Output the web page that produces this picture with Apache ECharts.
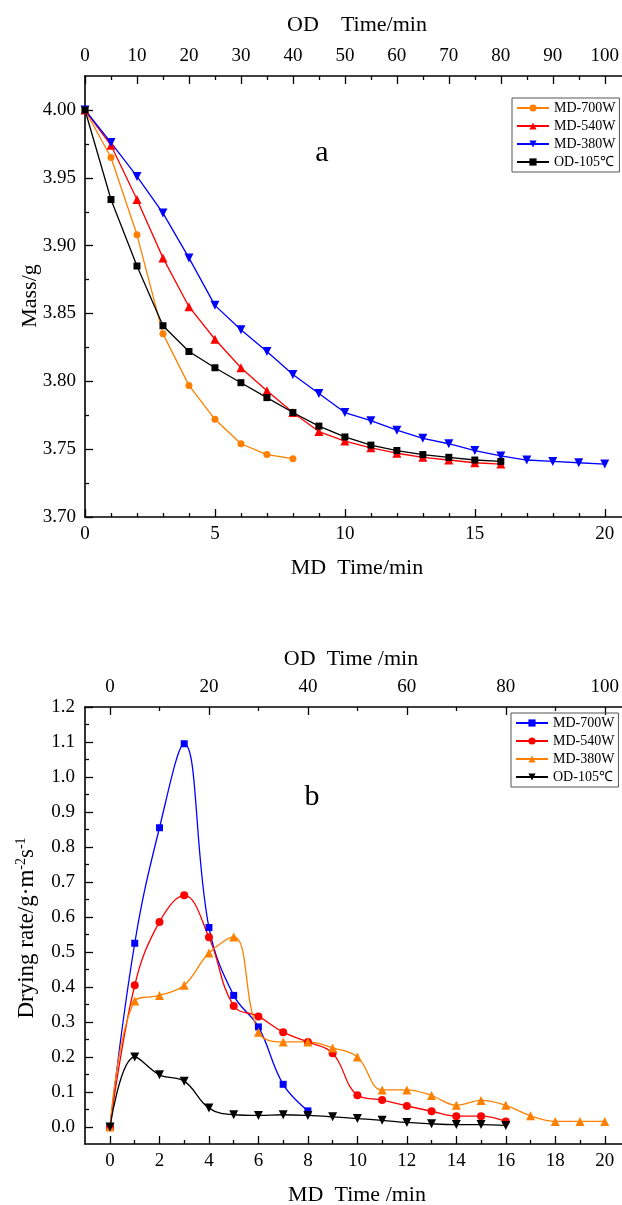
<!DOCTYPE html>
<html><head><meta charset="utf-8">
<script src="https://cdn.jsdelivr.net/npm/echarts@6/dist/echarts.min.js"></script>
<style>html,body{margin:0;padding:0;background:#fff}#c{width:622px;height:1205px}</style>
</head><body><div id="c"></div>
<script>
// ---- Chart a: mass vs time ----
const massMD700 = [4.000,3.965,3.908,3.835,3.797,3.772,3.754,3.746,3.743];
const massMD540 = [4.000,3.974,3.934,3.891,3.855,3.831,3.810,3.793,3.777,3.763,3.756,3.751,3.747,3.744,3.742,3.740,3.739];
const massMD380 = [4.000,3.976,3.951,3.924,3.891,3.856,3.838,3.822,3.805,3.791,3.777,3.771,3.764,3.758,3.754,3.749,3.745,3.742,3.741,3.740,3.739];
const massOD105 = [4.000,3.934,3.885,3.841,3.822,3.810,3.799,3.788,3.777,3.767,3.759,3.753,3.749,3.746,3.744,3.742,3.741];
// ---- Chart b: drying rate vs time ----
const rateMD700 = [0,0.525,0.855,1.095,0.570,0.376,0.286,0.122,0.046];
const rateMD540 = [0,0.405,0.586,0.662,0.542,0.346,0.316,0.271,0.243,0.211,0.091,0.077,0.060,0.045,0.031,0.031,0.016];
const rateMD380 = [0,0.360,0.376,0.405,0.497,0.543,0.271,0.243,0.243,0.226,0.200,0.106,0.106,0.090,0.062,0.076,0.062,0.032,0.016,0.016,0.016];
const rateOD105 = [0,0.200,0.149,0.131,0.054,0.035,0.033,0.035,0.033,0.029,0.024,0.019,0.013,0.009,0.007,0.007,0.004];
// MD time (min) of each point = index; OD time = 5 x MD index
const mdTimes = [0,1,2,3,4,5,6,7,8,9,10,11,12,13,14,15,16,17,18,19,20];

const FONT = 'Liberation Serif';
const pairs = (vals) => vals.map((v, i) => [mdTimes[i], v]);

const lbl = (margin, fmt) => ({show:true, fontFamily:FONT, fontSize:19, color:'#000', margin, formatter:fmt});
const tick = {show:true, inside:true, length:8, lineStyle:{color:'#000', width:1.3}};
const minor = (n) => ({show:true, splitNumber:n, length:4, lineStyle:{color:'#000', width:1.3}});
const noLine = {show:false, onZero:false};
const frameLine = {show:true, onZero:false, lineStyle:{color:'#000', width:1.6}};

function frameAxis(gridIndex, position) {
  return {type:'value', gridIndex, position, min:0, max:1, axisLine:frameLine,
    axisTick:{show:false}, axisLabel:{show:false}, splitLine:{show:false}};
}
function dataAxis(gridIndex, position, min, max, interval, minorN, offset, margin, fmt) {
  return {type:'value', gridIndex, position, min, max, interval, offset,
    axisLine:noLine, axisTick:tick, minorTick:minor(minorN), axisLabel:lbl(margin, fmt),
    splitLine:{show:false}, minorSplitLine:{show:false}};
}

const option = {
  animation:false,
  backgroundColor:'#fff',
  grid:[
    {left:85, right:0, top:76, height:441},            // 0 frame a
    {left:85, right:17, top:110, height:407},          // 1 data a
    {left:85, right:0, top:707, height:437},           // 2 frame b
    {left:110, right:16, top:707, height:420}          // 3 data b
  ],
  xAxis:[
    frameAxis(0,'bottom'), frameAxis(0,'top'),
    dataAxis(1,'bottom',0,20,5,5,0,8, v=>String(v)),
    dataAxis(1,'top',0,100,10,2,34,10, v=>String(v)),
    frameAxis(2,'bottom'), frameAxis(2,'top'),
    dataAxis(3,'bottom',0,20,2,2,17,8, v=>String(v)),
    dataAxis(3,'top',0,100,20,2,0,10, v=>String(v))
  ],
  yAxis:[
    frameAxis(0,'left'),
    dataAxis(1,'left',3.70,4.00,0.05,2,0,9, v=>v.toFixed(2)),
    frameAxis(2,'left'),
    dataAxis(3,'left',0,1.2,0.1,2,25,10, v=>v.toFixed(1))
  ],
  legend:[
    {left:512, top:98, orient:'vertical', itemWidth:32, itemHeight:9, itemGap:4,
     padding:[3,4,3,4], borderColor:'#555', borderWidth:1,
     textStyle:{fontFamily:FONT, fontSize:14, color:'#000', lineHeight:14},
     data:['MD-700W','MD-540W','MD-380W','OD-105℃']},
    {left:511, top:713, orient:'vertical', itemWidth:32, itemHeight:9, itemGap:4,
     padding:[3,4,3,4], borderColor:'#555', borderWidth:1,
     textStyle:{fontFamily:FONT, fontSize:14, color:'#000', lineHeight:14},
     formatter:(n)=>n.trim(),
     data:['MD-700W ','MD-540W ','MD-380W ','OD-105℃ ']}
  ],
  graphic:[
    {type:'text', position:[357,25], style:{text:'OD    Time/min', font:'22px "Liberation Serif"', fill:'#000', textAlign:'center', textVerticalAlign:'middle'}},
    {type:'text', position:[357,568], style:{text:'MD  Time/min', font:'22px "Liberation Serif"', fill:'#000', textAlign:'center', textVerticalAlign:'middle'}},
    {type:'text', position:[30,296], rotation:Math.PI/2, style:{text:'Mass/g', font:'22px "Liberation Serif"', fill:'#000', textAlign:'center', textVerticalAlign:'middle'}},
    {type:'text', position:[322,153], style:{text:'a', font:'30px "Liberation Serif"', fill:'#000', textAlign:'center', textVerticalAlign:'middle'}},
    {type:'text', position:[351,659], style:{text:'OD  Time /min', font:'22px "Liberation Serif"', fill:'#000', textAlign:'center', textVerticalAlign:'middle'}},
    {type:'text', position:[357,1195], style:{text:'MD  Time /min', font:'22px "Liberation Serif"', fill:'#000', textAlign:'center', textVerticalAlign:'middle'}},
    {type:'text', position:[27,928], rotation:Math.PI/2, style:{text:'{a|Drying rate/g·m}{s|-2}{a|s}{s|-1}', textAlign:'center', textVerticalAlign:'middle',
      rich:{a:{fontFamily:FONT, fontSize:23, fill:'#000', lineHeight:26}, s:{fontFamily:FONT, fontSize:14, fill:'#000', verticalAlign:'top', lineHeight:14}}}},
    {type:'text', position:[312,797], style:{text:'b', font:'30px "Liberation Serif"', fill:'#000', textAlign:'center', textVerticalAlign:'middle'}}
  ],
  series:[
    {name:'MD-700W', type:'line', xAxisIndex:2, yAxisIndex:1, data:pairs(massMD700), symbol:'circle', symbolSize:7,
     itemStyle:{color:'#FF8000'}, lineStyle:{color:'#FF8000', width:1.3}, clip:false},
    {name:'MD-540W', type:'line', xAxisIndex:2, yAxisIndex:1, data:pairs(massMD540), symbol:'triangle', symbolSize:9,
     itemStyle:{color:'#FF0000'}, lineStyle:{color:'#FF0000', width:1.3}, clip:false},
    {name:'MD-380W', type:'line', xAxisIndex:2, yAxisIndex:1, data:pairs(massMD380), symbol:'triangle', symbolRotate:180, symbolSize:9,
     itemStyle:{color:'#0000FF'}, lineStyle:{color:'#0000FF', width:1.3}, clip:false},
    {name:'OD-105℃', type:'line', xAxisIndex:2, yAxisIndex:1, data:pairs(massOD105), symbol:'rect', symbolSize:7,
     itemStyle:{color:'#000'}, lineStyle:{color:'#000', width:1.3}, clip:false},

    {name:'MD-700W ', type:'line', xAxisIndex:6, yAxisIndex:3, data:pairs(rateMD700), symbol:'rect', symbolSize:7, smooth:0.4,
     itemStyle:{color:'#0000FF'}, lineStyle:{color:'#0000FF', width:1.3}, clip:false},
    {name:'MD-540W ', type:'line', xAxisIndex:6, yAxisIndex:3, data:pairs(rateMD540), symbol:'circle', symbolSize:8, smooth:0.4,
     itemStyle:{color:'#FF0000'}, lineStyle:{color:'#FF0000', width:1.3}, clip:false},
    {name:'MD-380W ', type:'line', xAxisIndex:6, yAxisIndex:3, data:pairs(rateMD380), symbol:'triangle', symbolSize:9, smooth:0.4,
     itemStyle:{color:'#FF8000'}, lineStyle:{color:'#FF8000', width:1.3}, clip:false},
    {name:'OD-105℃ ', type:'line', xAxisIndex:6, yAxisIndex:3, data:pairs(rateOD105), symbol:'triangle', symbolRotate:180, symbolSize:9, smooth:0.4,
     itemStyle:{color:'#000'}, lineStyle:{color:'#000', width:1.3}, clip:false}
  ]
};
const chart = echarts.init(document.getElementById('c'), null, {renderer:'canvas'});
chart.setOption(option);
</script></body></html>
